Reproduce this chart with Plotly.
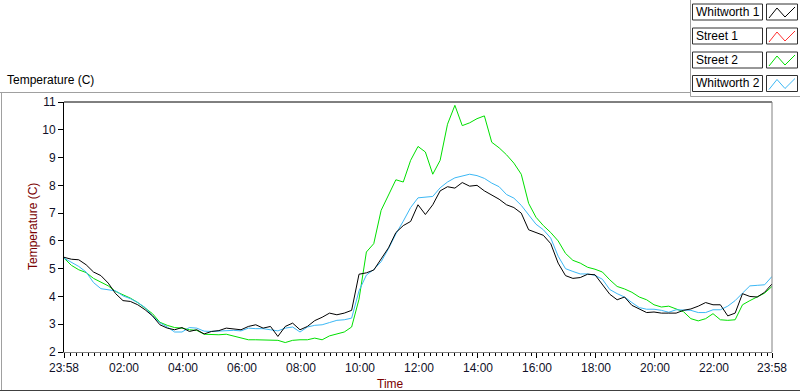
import pandas as pd
import plotly.graph_objects as go

# ---- data (15-minute samples starting 23:58) ----
start_time = "2000-01-01 23:58"
sample_step = "15min"

whitworth1 = [5.41, 5.34, 5.32, 5.14, 4.88, 4.75, 4.48, 4.10, 3.85, 3.82, 3.70, 3.52, 3.30, 2.98, 2.86, 2.80,
              2.88, 2.74, 2.80, 2.65, 2.74, 2.77, 2.86, 2.82, 2.80, 2.92, 2.98, 2.86, 2.92, 2.56, 2.92, 3.04,
              2.80, 2.92, 3.13, 3.25, 3.40, 3.34, 3.40, 3.50, 4.80, 4.85, 4.95, 5.35, 5.75, 6.30, 6.55, 6.70,
              7.30, 6.95, 7.30, 7.80, 7.95, 7.90, 8.10, 7.97, 8.00, 7.80, 7.65, 7.50, 7.30, 7.20, 7.00, 6.40,
              6.30, 6.20, 5.90, 5.20, 4.75, 4.65, 4.68, 4.80, 4.78, 4.45, 4.08, 3.88, 3.98, 3.68, 3.55, 3.42,
              3.44, 3.40, 3.40, 3.40, 3.50, 3.55, 3.65, 3.78, 3.70, 3.70, 3.30, 3.40, 4.10, 4.00, 3.98, 4.15,
              4.45]
street1 = []
street2 = [5.38, 5.12, 4.96, 4.86, 4.65, 4.50, 4.38, 4.18, 4.06, 3.94, 3.78, 3.58, 3.38, 3.07, 2.96, 2.88,
           2.86, 2.80, 2.78, 2.64, 2.62, 2.62, 2.64, 2.58, 2.50, 2.44, 2.44, 2.44, 2.44, 2.42, 2.34, 2.42,
           2.44, 2.44, 2.50, 2.44, 2.58, 2.65, 2.72, 2.90, 3.90, 5.60, 5.90, 7.10, 7.67, 8.20, 8.12, 8.90,
           9.40, 9.20, 8.40, 8.90, 10.20, 10.88, 10.15, 10.25, 10.40, 10.50, 9.55, 9.35, 9.10, 8.80, 8.40, 7.35,
           6.85, 6.55, 6.30, 6.00, 5.55, 5.30, 5.20, 5.05, 4.98, 4.88, 4.60, 4.36, 4.27, 4.15, 3.98, 3.88,
           3.70, 3.62, 3.65, 3.55, 3.45, 3.20, 3.12, 3.20, 3.38, 3.16, 3.14, 3.16, 3.70, 3.85, 4.00, 4.12,
           4.36]
whitworth2 = [5.38, 5.22, 5.08, 4.88, 4.50, 4.28, 4.24, 4.20, 4.02, 3.92, 3.78, 3.60, 3.30, 3.05, 2.90, 2.72,
              2.72, 2.88, 2.86, 2.75, 2.74, 2.76, 2.78, 2.78, 2.76, 2.86, 2.84, 2.84, 2.80, 2.76, 2.86, 2.90,
              2.72, 2.90, 2.96, 2.98, 3.06, 3.14, 3.16, 3.22, 4.20, 4.77, 4.97, 5.25, 5.72, 6.25, 6.71, 7.20,
              7.55, 7.58, 7.60, 7.91, 8.12, 8.27, 8.34, 8.40, 8.35, 8.25, 8.08, 7.95, 7.67, 7.54, 7.28, 6.95,
              6.60, 6.40, 6.10, 5.45, 5.00, 4.90, 4.81, 4.81, 4.76, 4.62, 4.25, 4.10, 3.98, 3.78, 3.60, 3.54,
              3.54, 3.50, 3.43, 3.52, 3.52, 3.50, 3.42, 3.42, 3.52, 3.52, 3.65, 3.85, 4.12, 4.38, 4.40, 4.42,
              4.72]

series_names = ["Whitworth 1", "Street 1", "Street 2", "Whitworth 2"]
series_colors = ["#000000", "#ff3030", "#00e000", "#3cb8f5"]
series_values = [whitworth1, street1, street2, whitworth2]

tick_times = ["2000-01-01 23:58", "2000-01-02 02:00", "2000-01-02 04:00", "2000-01-02 06:00",
              "2000-01-02 08:00", "2000-01-02 10:00", "2000-01-02 12:00", "2000-01-02 14:00",
              "2000-01-02 16:00", "2000-01-02 18:00", "2000-01-02 20:00", "2000-01-02 22:00",
              "2000-01-02 23:58"]
tick_labels = ["23:58", "02:00", "04:00", "06:00", "08:00", "10:00", "12:00", "14:00",
               "16:00", "18:00", "20:00", "22:00", "23:58"]
y_ticks = [2, 3, 4, 5, 6, 7, 8, 9, 10, 11]

times = pd.date_range(start_time, periods=len(whitworth1), freq=sample_step)

FONT = "Liberation Sans"
W, H = 800, 392
L, R, T, B = 64, 772, 102, 352

fig = go.Figure()
# draw order: green, blue, black on top
for idx in [2, 1, 3, 0]:
    vals = series_values[idx]
    fig.add_trace(go.Scatter(x=times[:len(vals)], y=vals, mode="lines", name=series_names[idx],
                             line=dict(color=series_colors[idx], width=1), showlegend=False))


def px(xp):
    return (xp - L) / (R - L)


def py(yp):
    return (B - yp) / (B - T)


shapes = []


def line(x0, y0, x1, y1, color, width=1):
    shapes.append(dict(type="line", xref="paper", yref="paper", x0=px(x0), y0=py(y0), x1=px(x1), y1=py(y1),
                       line=dict(color=color, width=width), layer="above"))


# outer frame
line(0, 92.5, 690.5, 92.5, "#a0a0a0")
line(1.5, 92.5, 1.5, 390.5, "#a0a0a0")
line(0, 390.5, 800, 390.5, "#404040")
line(690.5, 0, 690.5, 96.5, "#a0a0a0")
line(690.5, 96.5, 800, 96.5, "#a0a0a0")
# plot frame
line(L, T, R, T, "#000000")
line(R, T, R, B, "#808080")

annotations = []
# legend
box_tops = [4, 28, 52, 75.5]
box_h = 16
for name, color, top in zip(series_names, series_colors, box_tops):
    bot = top + box_h
    shapes.append(dict(type="rect", xref="paper", yref="paper", x0=px(692.5), x1=px(762.5), y0=py(top), y1=py(bot),
                       line=dict(color="#303030", width=1), fillcolor="white"))
    shapes.append(dict(type="rect", xref="paper", yref="paper", x0=px(766.5), x1=px(797.5), y0=py(top), y1=py(bot),
                       line=dict(color="#303030", width=1), fillcolor="white"))
    path = "M {:.5f},{:.5f} L {:.5f},{:.5f} L {:.5f},{:.5f} L {:.5f},{:.5f}".format(
        px(769), py(bot - 2), px(777), py(top + 4), px(785), py(bot - 3), px(795), py(top + 3))
    shapes.append(dict(type="path", xref="paper", yref="paper", path=path, line=dict(color=color, width=1)))
    annotations.append(dict(x=px(694), y=py(top + box_h / 2), xref="paper", yref="paper", text=name,
                            showarrow=False, xanchor="left", yanchor="middle",
                            font=dict(family=FONT, size=12, color="#000000")))

annotations.append(dict(x=px(5), y=py(80), xref="paper", yref="paper", text="Temperature (C)",
                        showarrow=False, xanchor="left", yanchor="middle",
                        font=dict(family=FONT, size=12, color="#000000")))
annotations.append(dict(x=px(33), y=py(227), xref="paper", yref="paper", text="Temperature (C)",
                        showarrow=False, textangle=-90, xanchor="center", yanchor="middle",
                        font=dict(family=FONT, size=12, color="#7a0000")))
annotations.append(dict(x=px(390), y=py(384), xref="paper", yref="paper", text="Time",
                        showarrow=False, xanchor="center", yanchor="middle",
                        font=dict(family=FONT, size=12, color="#7a0000")))

fig.update_layout(
    width=W, height=H,
    margin=dict(l=L, r=W - R, t=T, b=H - B),
    paper_bgcolor="white", plot_bgcolor="white",
    showlegend=False,
    shapes=shapes, annotations=annotations,
    font=dict(family=FONT, size=12, color="#101028"),
    xaxis=dict(type="date", range=[tick_times[0], tick_times[-1]], tickvals=tick_times, ticktext=tick_labels,
               showgrid=False, zeroline=False, showline=True, linecolor="#808080", linewidth=1,
               ticks="outside", ticklen=5, tickcolor="#000000", tickwidth=1,
               tickfont=dict(family=FONT, size=12, color="#101028"),
               minor=dict(ticks="outside", ticklen=3, tickcolor="#000000", dtick=12 * 60 * 1000,
                          tick0="2000-01-02 02:00", showgrid=False)),
    yaxis=dict(range=[2, 11], tickvals=y_ticks, showgrid=False, zeroline=False, showline=True,
               linecolor="#000000", linewidth=1, ticks="outside", ticklen=5, tickcolor="#000000",
               tickfont=dict(family=FONT, size=12, color="#101028")),
)

fig.write_html("out.html", config={"displayModeBar": False},
               post_script="document.body.style.margin='0';document.body.style.overflow='hidden';")
